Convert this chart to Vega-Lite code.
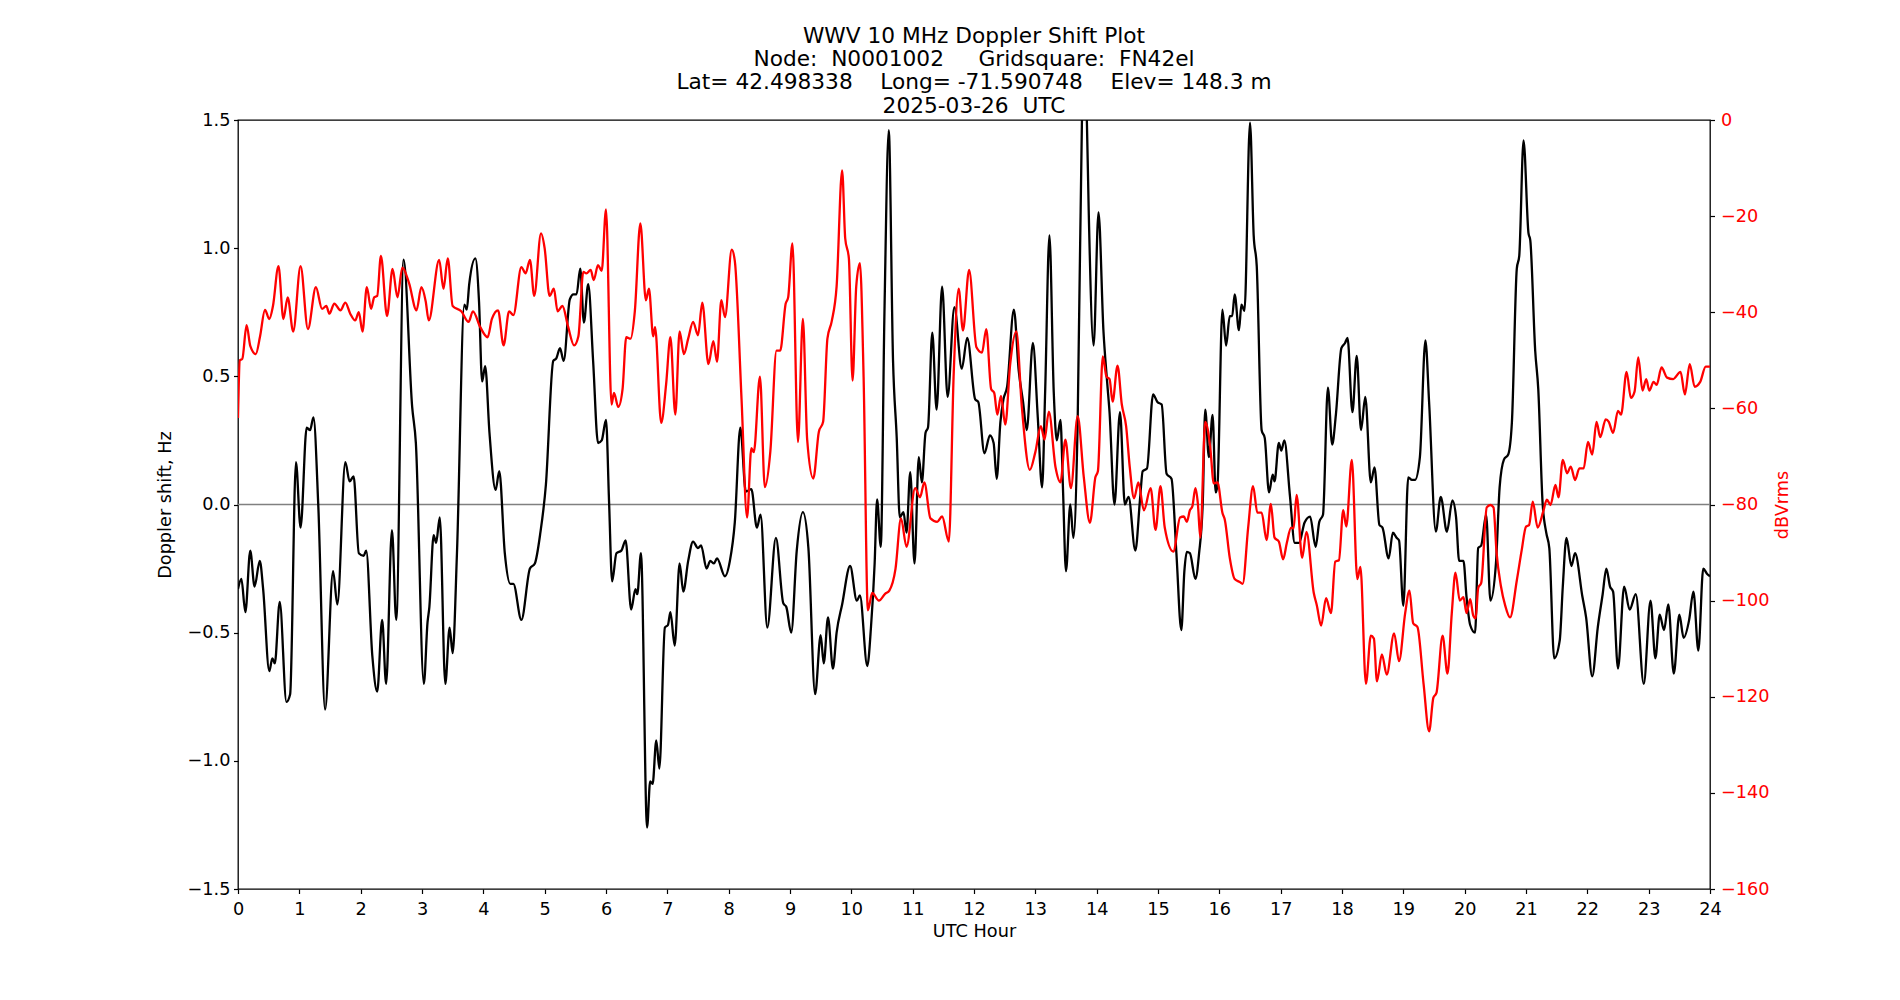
{
"$schema": "https://vega.github.io/schema/vega-lite/v6.json",
"autosize": {"type": "none"},
"padding": {"left": 238, "top": 120, "right": 190, "bottom": 111},
"width": 1472,
"height": 769,
"background": "white",
"title": {
  "text": ["WWV 10 MHz Doppler Shift Plot", "Node:\u00a0\u00a0N0001002\u00a0\u00a0\u00a0\u00a0\u00a0Gridsquare:\u00a0\u00a0FN42el", "Lat=\u00a042.498338\u00a0\u00a0\u00a0\u00a0Long=\u00a0-71.590748\u00a0\u00a0\u00a0\u00a0Elev=\u00a0148.3\u00a0m", "2025-03-26\u00a0\u00a0UTC"],
  "fontSize": 21.7, "font": "DejaVu Sans", "fontWeight": "normal", "color": "black",
  "lineHeight": 23.3, "anchor": "middle", "baseline": "bottom", "offset": -28.5
},
"config": {
  "view": {"stroke": "black", "strokeWidth": 1.3},
  "font": "DejaVu Sans",
  "axis": {"grid": false, "domain": false, "labelFontSize": 17.7, "titleFontSize": 17.7, "titleFontWeight": "normal",
           "labelColor": "black", "titleColor": "black", "tickColor": "black", "tickSize": 4.5, "tickWidth": 1.2,
           "labelFont": "DejaVu Sans", "titleFont": "DejaVu Sans", "labelFlush": false, "labelOverlap": false}
},
"datasets": {
"doppler": [
{"h":0.0,"d":-0.33},{"h":0.055,"d":-0.29},{"h":0.12,"d":-0.42},{"h":0.2,"d":-0.18},{"h":0.27,"d":-0.32},{"h":0.355,"d":-0.22},{"h":0.41,"d":-0.33},{"h":0.51,"d":-0.65},{"h":0.56,"d":-0.6},{"h":0.6,"d":-0.62},{"h":0.68,"d":-0.38},{"h":0.79,"d":-0.77},{"h":0.85,"d":-0.74},{"h":0.945,"d":0.165},{"h":1.02,"d":-0.09},{"h":1.12,"d":0.3},{"h":1.175,"d":0.29},{"h":1.23,"d":0.34},{"h":1.31,"d":-0.01},{"h":1.42,"d":-0.8},{"h":1.55,"d":-0.26},{"h":1.62,"d":-0.39},{"h":1.75,"d":0.165},{"h":1.82,"d":0.09},{"h":1.885,"d":0.11},{"h":1.97,"d":-0.19},{"h":2.05,"d":-0.2},{"h":2.09,"d":-0.18},{"h":2.19,"d":-0.59},{"h":2.27,"d":-0.73},{"h":2.35,"d":-0.45},{"h":2.415,"d":-0.7},{"h":2.51,"d":-0.1},{"h":2.58,"d":-0.45},{"h":2.7,"d":0.955},{"h":2.84,"d":0.38},{"h":2.9,"d":0.24},{"h":3.03,"d":-0.7},{"h":3.09,"d":-0.46},{"h":3.12,"d":-0.4},{"h":3.19,"d":-0.12},{"h":3.23,"d":-0.15},{"h":3.29,"d":-0.05},{"h":3.38,"d":-0.7},{"h":3.45,"d":-0.48},{"h":3.5,"d":-0.58},{"h":3.57,"d":-0.19},{"h":3.69,"d":0.78},{"h":3.73,"d":0.76},{"h":3.77,"d":0.86},{"h":3.87,"d":0.96},{"h":3.93,"d":0.79},{"h":3.98,"d":0.48},{"h":4.03,"d":0.54},{"h":4.1,"d":0.28},{"h":4.2,"d":0.057},{"h":4.26,"d":0.13},{"h":4.35,"d":-0.19},{"h":4.44,"d":-0.31},{"h":4.49,"d":-0.31},{"h":4.62,"d":-0.45},{"h":4.76,"d":-0.25},{"h":4.84,"d":-0.23},{"h":4.93,"d":-0.11},{"h":5.02,"d":0.077},{"h":5.14,"d":0.56},{"h":5.19,"d":0.57},{"h":5.25,"d":0.61},{"h":5.31,"d":0.56},{"h":5.41,"d":0.8},{"h":5.47,"d":0.82},{"h":5.52,"d":0.82},{"h":5.58,"d":0.92},{"h":5.64,"d":0.71},{"h":5.71,"d":0.86},{"h":5.79,"d":0.56},{"h":5.87,"d":0.24},{"h":5.93,"d":0.25},{"h":6.0,"d":0.33},{"h":6.05,"d":0.01},{"h":6.1,"d":-0.3},{"h":6.17,"d":-0.19},{"h":6.25,"d":-0.18},{"h":6.32,"d":-0.14},{"h":6.41,"d":-0.41},{"h":6.48,"d":-0.33},{"h":6.51,"d":-0.35},{"h":6.57,"d":-0.19},{"h":6.67,"d":-1.26},{"h":6.72,"d":-1.08},{"h":6.76,"d":-1.09},{"h":6.82,"d":-0.92},{"h":6.87,"d":-1.03},{"h":6.96,"d":-0.48},{"h":7.01,"d":-0.47},{"h":7.05,"d":-0.42},{"h":7.12,"d":-0.55},{"h":7.2,"d":-0.23},{"h":7.26,"d":-0.34},{"h":7.34,"d":-0.22},{"h":7.42,"d":-0.145},{"h":7.5,"d":-0.17},{"h":7.55,"d":-0.16},{"h":7.64,"d":-0.25},{"h":7.7,"d":-0.22},{"h":7.76,"d":-0.23},{"h":7.81,"d":-0.21},{"h":7.94,"d":-0.28},{"h":8.02,"d":-0.22},{"h":8.1,"d":-0.07},{"h":8.19,"d":0.3},{"h":8.28,"d":0.05},{"h":8.37,"d":0.06},{"h":8.46,"d":-0.09},{"h":8.52,"d":-0.04},{"h":8.63,"d":-0.48},{"h":8.77,"d":-0.13},{"h":8.89,"d":-0.385},{"h":8.94,"d":-0.4},{"h":9.02,"d":-0.5},{"h":9.11,"d":-0.18},{"h":9.21,"d":-0.03},{"h":9.3,"d":-0.17},{"h":9.41,"d":-0.74},{"h":9.5,"d":-0.51},{"h":9.55,"d":-0.62},{"h":9.62,"d":-0.44},{"h":9.7,"d":-0.64},{"h":9.76,"d":-0.5},{"h":9.85,"d":-0.39},{"h":9.98,"d":-0.24},{"h":10.09,"d":-0.375},{"h":10.14,"d":-0.355},{"h":10.26,"d":-0.63},{"h":10.32,"d":-0.48},{"h":10.38,"d":-0.23},{"h":10.42,"d":0.02},{"h":10.48,"d":-0.165},{"h":10.54,"d":0.75},{"h":10.61,"d":1.46},{"h":10.68,"d":0.56},{"h":10.74,"d":0.26},{"h":10.79,"d":-0.05},{"h":10.85,"d":-0.03},{"h":10.9,"d":-0.11},{"h":10.96,"d":0.126},{"h":11.03,"d":-0.23},{"h":11.1,"d":0.185},{"h":11.15,"d":0.086},{"h":11.21,"d":0.28},{"h":11.25,"d":0.3},{"h":11.32,"d":0.67},{"h":11.39,"d":0.37},{"h":11.48,"d":0.85},{"h":11.57,"d":0.42},{"h":11.68,"d":0.77},{"h":11.8,"d":0.53},{"h":11.89,"d":0.65},{"h":12.02,"d":0.41},{"h":12.07,"d":0.4},{"h":12.17,"d":0.2},{"h":12.26,"d":0.27},{"h":12.32,"d":0.24},{"h":12.37,"d":0.1},{"h":12.43,"d":0.32},{"h":12.48,"d":0.41},{"h":12.54,"d":0.46},{"h":12.65,"d":0.76},{"h":12.73,"d":0.52},{"h":12.8,"d":0.4},{"h":12.86,"d":0.29},{"h":12.96,"d":0.63},{"h":13.04,"d":0.34},{"h":13.11,"d":0.067},{"h":13.16,"d":0.44},{"h":13.23,"d":1.05},{"h":13.3,"d":0.44},{"h":13.35,"d":0.25},{"h":13.41,"d":0.33},{"h":13.45,"d":0.067},{"h":13.5,"d":-0.26},{"h":13.57,"d":0.0},{"h":13.62,"d":-0.13},{"h":13.69,"d":0.32},{"h":13.76,"d":1.5},{"h":13.8,"d":1.75},{"h":13.84,"d":1.5},{"h":13.87,"d":1.15},{"h":13.95,"d":0.62},{"h":14.03,"d":1.14},{"h":14.11,"d":0.68},{"h":14.17,"d":0.48},{"h":14.21,"d":0.36},{"h":14.29,"d":0.0},{"h":14.38,"d":0.36},{"h":14.46,"d":0.0},{"h":14.52,"d":0.03},{"h":14.63,"d":-0.18},{"h":14.71,"d":0.03},{"h":14.75,"d":0.13},{"h":14.82,"d":0.14},{"h":14.92,"d":0.43},{"h":14.99,"d":0.4},{"h":15.06,"d":0.39},{"h":15.14,"d":0.12},{"h":15.22,"d":0.1},{"h":15.3,"d":-0.19},{"h":15.38,"d":-0.49},{"h":15.43,"d":-0.26},{"h":15.47,"d":-0.185},{"h":15.52,"d":-0.19},{"h":15.61,"d":-0.29},{"h":15.67,"d":-0.19},{"h":15.73,"d":0.01},{"h":15.77,"d":0.37},{"h":15.83,"d":0.185},{"h":15.89,"d":0.35},{"h":15.94,"d":0.047},{"h":15.97,"d":0.077},{"h":16.05,"d":0.76},{"h":16.11,"d":0.62},{"h":16.17,"d":0.735},{"h":16.21,"d":0.735},{"h":16.25,"d":0.82},{"h":16.32,"d":0.68},{"h":16.36,"d":0.78},{"h":16.41,"d":0.755},{"h":16.5,"d":1.49},{"h":16.56,"d":1.05},{"h":16.61,"d":0.93},{"h":16.69,"d":0.29},{"h":16.74,"d":0.26},{"h":16.81,"d":0.047},{"h":16.87,"d":0.116},{"h":16.9,"d":0.09},{"h":16.97,"d":0.24},{"h":17.01,"d":0.21},{"h":17.06,"d":0.25},{"h":17.15,"d":0.037},{"h":17.23,"d":-0.15},{"h":17.3,"d":-0.15},{"h":17.39,"d":-0.07},{"h":17.48,"d":-0.047},{"h":17.57,"d":-0.165},{"h":17.63,"d":-0.067},{"h":17.69,"d":-0.04},{"h":17.77,"d":0.456},{"h":17.84,"d":0.234},{"h":17.9,"d":0.35},{"h":17.99,"d":0.61},{"h":18.05,"d":0.63},{"h":18.09,"d":0.65},{"h":18.17,"d":0.36},{"h":18.24,"d":0.58},{"h":18.31,"d":0.29},{"h":18.38,"d":0.42},{"h":18.47,"d":0.086},{"h":18.53,"d":0.145},{"h":18.61,"d":-0.08},{"h":18.66,"d":-0.09},{"h":18.76,"d":-0.21},{"h":18.83,"d":-0.11},{"h":18.89,"d":-0.13},{"h":18.93,"d":-0.14},{"h":19.0,"d":-0.395},{"h":19.08,"d":0.106},{"h":19.14,"d":0.096},{"h":19.19,"d":0.096},{"h":19.27,"d":0.185},{"h":19.36,"d":0.64},{"h":19.42,"d":0.4},{"h":19.53,"d":-0.106},{"h":19.61,"d":0.03},{"h":19.71,"d":-0.106},{"h":19.8,"d":0.016},{"h":19.86,"d":-0.05},{"h":19.91,"d":-0.22},{"h":19.98,"d":-0.22},{"h":20.03,"d":-0.36},{"h":20.09,"d":-0.47},{"h":20.17,"d":-0.5},{"h":20.22,"d":-0.17},{"h":20.27,"d":-0.16},{"h":20.35,"d":-0.04},{"h":20.42,"d":-0.375},{"h":20.51,"d":-0.23},{"h":20.57,"d":0.067},{"h":20.64,"d":0.175},{"h":20.71,"d":0.195},{"h":20.77,"d":0.32},{"h":20.85,"d":0.92},{"h":20.89,"d":0.97},{"h":20.96,"d":1.42},{"h":21.04,"d":1.06},{"h":21.07,"d":1.03},{"h":21.15,"d":0.6},{"h":21.2,"d":0.45},{"h":21.27,"d":0.008},{"h":21.33,"d":-0.11},{"h":21.38,"d":-0.17},{"h":21.46,"d":-0.6},{"h":21.55,"d":-0.53},{"h":21.6,"d":-0.32},{"h":21.66,"d":-0.13},{"h":21.74,"d":-0.24},{"h":21.8,"d":-0.19},{"h":21.92,"d":-0.36},{"h":21.98,"d":-0.44},{"h":22.08,"d":-0.67},{"h":22.17,"d":-0.48},{"h":22.25,"d":-0.35},{"h":22.31,"d":-0.25},{"h":22.37,"d":-0.32},{"h":22.42,"d":-0.34},{"h":22.5,"d":-0.64},{"h":22.6,"d":-0.32},{"h":22.69,"d":-0.41},{"h":22.79,"d":-0.35},{"h":22.92,"d":-0.7},{"h":23.03,"d":-0.375},{"h":23.11,"d":-0.6},{"h":23.18,"d":-0.43},{"h":23.25,"d":-0.49},{"h":23.32,"d":-0.39},{"h":23.41,"d":-0.66},{"h":23.5,"d":-0.43},{"h":23.57,"d":-0.52},{"h":23.66,"d":-0.45},{"h":23.73,"d":-0.34},{"h":23.81,"d":-0.57},{"h":23.89,"d":-0.25},{"h":23.95,"d":-0.27},{"h":24.0,"d":-0.28}
],
"power": [
{"h":0.0,"db":-62},{"h":0.03,"db":-50},{"h":0.07,"db":-49.7},{"h":0.14,"db":-42.7},{"h":0.2,"db":-47},{"h":0.29,"db":-48.7},{"h":0.36,"db":-45},{"h":0.44,"db":-39.5},{"h":0.51,"db":-41.4},{"h":0.57,"db":-38.7},{"h":0.66,"db":-30.4},{"h":0.74,"db":-41.4},{"h":0.81,"db":-36.9},{"h":0.9,"db":-44},{"h":1.02,"db":-30.4},{"h":1.14,"db":-43.5},{"h":1.27,"db":-34.8},{"h":1.37,"db":-39.3},{"h":1.44,"db":-38.7},{"h":1.49,"db":-40.3},{"h":1.57,"db":-38.2},{"h":1.67,"db":-39.6},{"h":1.75,"db":-38},{"h":1.83,"db":-40.3},{"h":1.91,"db":-41.7},{"h":1.97,"db":-40},{"h":2.03,"db":-44},{"h":2.1,"db":-34.8},{"h":2.17,"db":-39.3},{"h":2.22,"db":-36.9},{"h":2.27,"db":-36.6},{"h":2.33,"db":-28.3},{"h":2.43,"db":-40.8},{"h":2.52,"db":-31},{"h":2.6,"db":-36.9},{"h":2.68,"db":-30.7},{"h":2.79,"db":-34},{"h":2.91,"db":-39.6},{"h":2.99,"db":-34.8},{"h":3.06,"db":-37.7},{"h":3.11,"db":-41.7},{"h":3.28,"db":-29.1},{"h":3.35,"db":-35.1},{"h":3.42,"db":-28.8},{"h":3.5,"db":-38.7},{"h":3.64,"db":-39.8},{"h":3.76,"db":-42},{"h":3.83,"db":-39.8},{"h":3.95,"db":-43.1},{"h":4.07,"db":-45.2},{"h":4.14,"db":-41.4},{"h":4.24,"db":-39.6},{"h":4.33,"db":-46.9},{"h":4.42,"db":-39.8},{"h":4.49,"db":-40.6},{"h":4.62,"db":-30.6},{"h":4.69,"db":-31.9},{"h":4.76,"db":-29.1},{"h":4.83,"db":-36.6},{"h":4.94,"db":-23.6},{"h":5.0,"db":-26.7},{"h":5.08,"db":-36.6},{"h":5.15,"db":-35.1},{"h":5.21,"db":-39.8},{"h":5.29,"db":-38.7},{"h":5.38,"db":-42.9},{"h":5.48,"db":-46.9},{"h":5.55,"db":-45},{"h":5.63,"db":-31.6},{"h":5.68,"db":-31.9},{"h":5.75,"db":-31.2},{"h":5.8,"db":-33.3},{"h":5.87,"db":-30.2},{"h":5.93,"db":-31.4},{"h":6.0,"db":-18.6},{"h":6.09,"db":-59.2},{"h":6.13,"db":-56.8},{"h":6.2,"db":-59.7},{"h":6.27,"db":-56},{"h":6.33,"db":-45.2},{"h":6.4,"db":-45.5},{"h":6.47,"db":-39.8},{"h":6.56,"db":-21.5},{"h":6.65,"db":-37.5},{"h":6.7,"db":-35.1},{"h":6.77,"db":-45},{"h":6.8,"db":-43.1},{"h":6.9,"db":-63},{"h":6.98,"db":-55},{"h":7.05,"db":-45.2},{"h":7.13,"db":-61.3},{"h":7.2,"db":-44},{"h":7.27,"db":-48.7},{"h":7.34,"db":-45.5},{"h":7.42,"db":-42},{"h":7.5,"db":-44.8},{"h":7.57,"db":-38},{"h":7.67,"db":-50.8},{"h":7.75,"db":-46},{"h":7.81,"db":-50.3},{"h":7.88,"db":-37.5},{"h":7.94,"db":-41},{"h":8.05,"db":-27},{"h":8.1,"db":-29.3},{"h":8.21,"db":-58.1},{"h":8.3,"db":-82.7},{"h":8.37,"db":-68.3},{"h":8.41,"db":-69.1},{"h":8.51,"db":-53.4},{"h":8.59,"db":-76.4},{"h":8.68,"db":-68.9},{"h":8.78,"db":-48},{"h":8.84,"db":-48},{"h":8.93,"db":-38.2},{"h":8.97,"db":-36.9},{"h":9.04,"db":-25.7},{"h":9.13,"db":-67},{"h":9.21,"db":-41.4},{"h":9.28,"db":-66.5},{"h":9.38,"db":-74.6},{"h":9.47,"db":-64.9},{"h":9.54,"db":-62.8},{"h":9.61,"db":-45.5},{"h":9.68,"db":-41.9},{"h":9.76,"db":-34.6},{"h":9.85,"db":-10.5},{"h":9.9,"db":-24.6},{"h":9.96,"db":-28.8},{"h":10.02,"db":-54.2},{"h":10.08,"db":-34.6},{"h":10.14,"db":-29.8},{"h":10.2,"db":-53.4},{"h":10.27,"db":-102},{"h":10.34,"db":-98.4},{"h":10.45,"db":-100},{"h":10.55,"db":-98.6},{"h":10.62,"db":-97.9},{"h":10.72,"db":-93.4},{"h":10.81,"db":-82.9},{"h":10.9,"db":-88.8},{"h":11.04,"db":-76.6},{"h":11.12,"db":-78.5},{"h":11.19,"db":-75.4},{"h":11.29,"db":-82.9},{"h":11.4,"db":-83.6},{"h":11.48,"db":-82.5},{"h":11.59,"db":-87.7},{"h":11.67,"db":-52.4},{"h":11.75,"db":-35.1},{"h":11.82,"db":-43.8},{"h":11.92,"db":-31.2},{"h":12.04,"db":-47.3},{"h":12.13,"db":-48.4},{"h":12.2,"db":-43.5},{"h":12.28,"db":-56},{"h":12.33,"db":-56.8},{"h":12.38,"db":-61.3},{"h":12.44,"db":-57.4},{"h":12.51,"db":-63.4},{"h":12.59,"db":-50.8},{"h":12.69,"db":-44},{"h":12.78,"db":-59.7},{"h":12.91,"db":-72.8},{"h":13.0,"db":-69.1},{"h":13.09,"db":-63.7},{"h":13.15,"db":-66.5},{"h":13.22,"db":-60.7},{"h":13.33,"db":-72.3},{"h":13.41,"db":-75.4},{"h":13.49,"db":-66.5},{"h":13.58,"db":-76.6},{"h":13.69,"db":-61.6},{"h":13.79,"db":-74.3},{"h":13.89,"db":-83.8},{"h":13.98,"db":-74.3},{"h":14.02,"db":-73.1},{"h":14.1,"db":-49.2},{"h":14.16,"db":-53.4},{"h":14.21,"db":-53.9},{"h":14.26,"db":-58.6},{"h":14.34,"db":-51.1},{"h":14.41,"db":-59.2},{"h":14.48,"db":-63.7},{"h":14.54,"db":-72.3},{"h":14.61,"db":-78.7},{"h":14.68,"db":-75.4},{"h":14.77,"db":-81.2},{"h":14.88,"db":-76.6},{"h":14.96,"db":-85.3},{"h":15.04,"db":-76.2},{"h":15.11,"db":-84.8},{"h":15.25,"db":-89.8},{"h":15.36,"db":-82.7},{"h":15.42,"db":-82.5},{"h":15.47,"db":-83.6},{"h":15.52,"db":-81.2},{"h":15.56,"db":-80.4},{"h":15.61,"db":-76.6},{"h":15.65,"db":-79.8},{"h":15.69,"db":-86.9},{"h":15.77,"db":-62.8},{"h":15.85,"db":-67.9},{"h":15.91,"db":-75.6},{"h":15.97,"db":-75.4},{"h":16.05,"db":-81.7},{"h":16.09,"db":-83.2},{"h":16.17,"db":-91.1},{"h":16.25,"db":-95.5},{"h":16.33,"db":-96.1},{"h":16.38,"db":-96.5},{"h":16.47,"db":-84.8},{"h":16.55,"db":-76.2},{"h":16.62,"db":-81.7},{"h":16.69,"db":-81.7},{"h":16.77,"db":-87.4},{"h":16.84,"db":-79.9},{"h":16.9,"db":-86.9},{"h":16.97,"db":-87.7},{"h":17.04,"db":-91.4},{"h":17.1,"db":-88},{"h":17.17,"db":-84.8},{"h":17.21,"db":-85},{"h":17.26,"db":-78},{"h":17.35,"db":-91.1},{"h":17.42,"db":-85.7},{"h":17.54,"db":-98.4},{"h":17.59,"db":-101},{"h":17.66,"db":-105.2},{"h":17.74,"db":-99.5},{"h":17.82,"db":-102.6},{"h":17.89,"db":-91.9},{"h":17.95,"db":-91.6},{"h":18.02,"db":-81.2},{"h":18.07,"db":-84.6},{"h":18.16,"db":-70.7},{"h":18.25,"db":-95.5},{"h":18.3,"db":-93},{"h":18.39,"db":-117.3},{"h":18.47,"db":-107.3},{"h":18.52,"db":-107.9},{"h":18.57,"db":-116.8},{"h":18.65,"db":-111.2},{"h":18.73,"db":-115.4},{"h":18.85,"db":-106.8},{"h":18.93,"db":-112.6},{"h":19.03,"db":-102.6},{"h":19.1,"db":-97.9},{"h":19.16,"db":-104.7},{"h":19.23,"db":-105.5},{"h":19.33,"db":-117.3},{"h":19.42,"db":-127.2},{"h":19.49,"db":-120.2},{"h":19.54,"db":-119.2},{"h":19.64,"db":-107.3},{"h":19.72,"db":-115.2},{"h":19.79,"db":-102.6},{"h":19.85,"db":-94.2},{"h":19.92,"db":-100},{"h":19.98,"db":-99.3},{"h":20.03,"db":-102.6},{"h":20.09,"db":-99.7},{"h":20.14,"db":-103.1},{"h":20.18,"db":-103.7},{"h":20.22,"db":-97.4},{"h":20.27,"db":-96.3},{"h":20.36,"db":-80.6},{"h":20.42,"db":-80.1},{"h":20.47,"db":-80.6},{"h":20.52,"db":-90},{"h":20.59,"db":-96.9},{"h":20.66,"db":-101},{"h":20.74,"db":-103.5},{"h":20.85,"db":-95.8},{"h":20.93,"db":-89.5},{"h":21.0,"db":-84.6},{"h":21.05,"db":-84.3},{"h":21.11,"db":-79.4},{"h":21.19,"db":-84.8},{"h":21.28,"db":-81.5},{"h":21.34,"db":-79},{"h":21.4,"db":-80.1},{"h":21.48,"db":-75.9},{"h":21.53,"db":-78.5},{"h":21.6,"db":-70.7},{"h":21.67,"db":-73.5},{"h":21.73,"db":-72.1},{"h":21.8,"db":-74.9},{"h":21.87,"db":-72.5},{"h":21.94,"db":-72.5},{"h":22.01,"db":-67},{"h":22.08,"db":-69.6},{"h":22.15,"db":-62.8},{"h":22.21,"db":-66},{"h":22.3,"db":-62.3},{"h":22.35,"db":-62.8},{"h":22.42,"db":-65.1},{"h":22.5,"db":-60.5},{"h":22.55,"db":-61.3},{"h":22.64,"db":-52.4},{"h":22.71,"db":-57.8},{"h":22.77,"db":-56.5},{"h":22.83,"db":-49.4},{"h":22.9,"db":-56.3},{"h":22.96,"db":-53.9},{"h":23.01,"db":-56.3},{"h":23.08,"db":-54.5},{"h":23.13,"db":-55.1},{"h":23.21,"db":-51.5},{"h":23.3,"db":-53.6},{"h":23.4,"db":-53.9},{"h":23.52,"db":-52.4},{"h":23.59,"db":-57.1},{"h":23.67,"db":-50.8},{"h":23.75,"db":-55.5},{"h":23.84,"db":-54.5},{"h":23.93,"db":-51.3},{"h":24.0,"db":-51.3}
]
},
"layer": [
  {
    "layer": [
      {
        "data": {"values": [{"zero": 0}]},
        "mark": {"type": "rule", "color": "#808080", "strokeWidth": 1.4},
        "encoding": {
          "y": {"field": "zero", "type": "quantitative", "scale": {"domain": [-1.5, 1.5], "nice": false, "zero": false},
                "axis": {"title": "Doppler shift, Hz", "values": [-1.5, -1, -0.5, 0, 0.5, 1, 1.5], "format": ".1f", "labelPadding": 3.5, "minExtent": 52, "maxExtent": 52, "titlePadding": 12}}
        }
      },
      {
        "data": {"name": "doppler"},
        "mark": {"type": "line", "color": "black", "strokeWidth": 2.3, "interpolate": "monotone", "clip": true},
        "encoding": {
          "x": {"field": "h", "type": "quantitative", "scale": {"domain": [0, 24], "nice": false, "zero": false},
                "axis": {"title": "UTC Hour", "values": [0,1,2,3,4,5,6,7,8,9,10,11,12,13,14,15,16,17,18,19,20,21,22,23,24], "format": "d", "labelPadding": 7, "titlePadding": 4}},
          "y": {"field": "d", "type": "quantitative", "scale": {"domain": [-1.5, 1.5], "nice": false, "zero": false},
                "axis": {"title": "Doppler shift, Hz", "values": [-1.5, -1, -0.5, 0, 0.5, 1, 1.5], "format": ".1f", "labelPadding": 3.5, "minExtent": 52, "maxExtent": 52, "titlePadding": 12}}
        }
      }
    ]
  },
  {
    "data": {"name": "power"},
    "mark": {"type": "line", "color": "#ff0000", "strokeWidth": 2.3, "interpolate": "monotone", "clip": true},
    "encoding": {
      "x": {"field": "h", "type": "quantitative", "scale": {"domain": [0, 24], "nice": false, "zero": false},
            "axis": {"title": "UTC Hour", "values": [0,1,2,3,4,5,6,7,8,9,10,11,12,13,14,15,16,17,18,19,20,21,22,23,24], "format": "d", "labelPadding": 7, "titlePadding": 4}},
      "y": {"field": "db", "type": "quantitative", "scale": {"domain": [-160, 0], "nice": false, "zero": false},
            "axis": {"orient": "right", "title": "dBVrms", "values": [-160,-140,-120,-100,-80,-60,-40,-20,0], "format": "d", "labelColor": "#ff0000", "titleColor": "#ff0000", "titleAngle": 270, "titleBaseline": "top", "labelPadding": 6, "minExtent": 58, "maxExtent": 58, "titlePadding": 5}}
    }
  }
],
"resolve": {"scale": {"y": "independent"}, "axis": {"y": "independent"}}
}
